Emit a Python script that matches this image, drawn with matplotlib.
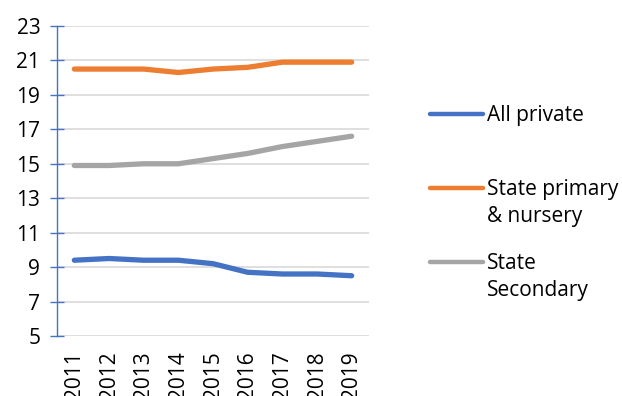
import matplotlib
matplotlib.use("Agg")
import matplotlib.pyplot as plt
from matplotlib.lines import Line2D

plt.rcParams['font.family'] = ['Open Sans', 'DejaVu Sans']

years = ["2011", "2012", "2013", "2014", "2015", "2016", "2017", "2018", "2019"]
all_private = [9.4, 9.5, 9.4, 9.4, 9.2, 8.7, 8.6, 8.6, 8.5]
state_primary = [20.5, 20.5, 20.5, 20.3, 20.5, 20.6, 20.9, 20.9, 20.9]
state_secondary = [14.9, 14.9, 15.0, 15.0, 15.3, 15.6, 16.0, 16.3, 16.6]

series = [
    ("All private", all_private, "#4472C4"),
    ("State primary\n& nursery", state_primary, "#ED7D31"),
    ("State\nSecondary", state_secondary, "#A5A5A5"),
]

fig = plt.figure(figsize=(6.22, 3.96), dpi=100)
ax = fig.add_axes([57 / 622, 1 - 336 / 396, 312 / 622, 310 / 396])

x = list(range(len(years)))
for label, vals, col in series:
    ax.plot(x, vals, color=col, lw=3.8, solid_capstyle="round", zorder=3)

ax.set_xlim(-0.5, len(years) - 0.5)
ax.set_ylim(5, 23)
ax.set_yticks(range(5, 24, 2))
ax.set_xticks(x)
ax.set_xticklabels(years, rotation=90)

ax.grid(axis="y", color="#D9D9D9", lw=1.2, zorder=0)
ax.set_axisbelow(True)
for s in ["top", "right", "bottom"]:
    ax.spines[s].set_visible(False)
ax.spines["left"].set_color("#4472C4")
ax.spines["left"].set_linewidth(1.0)

ax.tick_params(axis="y", direction="inout", length=10, width=1.0,
               color="#4472C4", pad=7, labelsize=15, labelcolor="#000000")
ax.tick_params(axis="x", length=0, pad=11, labelsize=15)

# legend drawn by hand so each swatch lines up with the first text line
legend_y = [114, 188, 262]
for (label, vals, col), yy in zip(series, legend_y):
    fy = 1 - yy / 396
    fig.add_artist(Line2D([430 / 622, 483 / 622], [fy, fy], color=col, lw=3.2,
                          solid_capstyle="round", transform=fig.transFigure))
    fig.text(487 / 622, fy + 9 / 396, label, fontsize=15, va="top",
             ha="left", linespacing=1.4)

fig.savefig("out.png", dpi=100)
